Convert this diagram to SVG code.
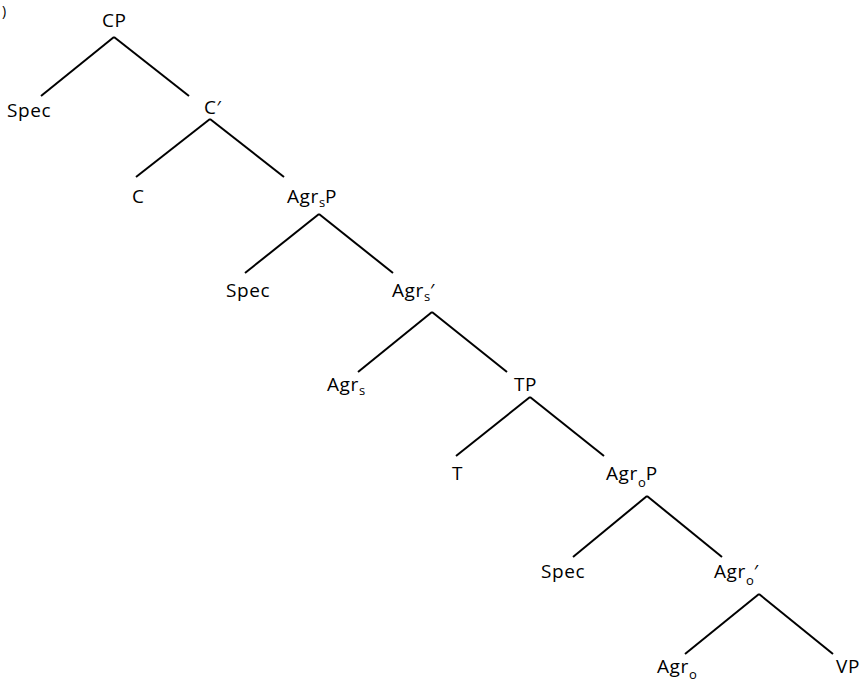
<svg xmlns="http://www.w3.org/2000/svg" width="863" height="682" viewBox="0 0 863 682">
<style>
text{font-family:"Open Sans","Liberation Sans",sans-serif;font-size:19px;letter-spacing:0.6px;fill:#000}
.sub{font-size:13px;letter-spacing:0}
#edges line{stroke:#000;stroke-width:2;stroke-linecap:butt}
</style>
<rect width="863" height="682" fill="#fff"/>
<text x="2" y="16" style="font-size:14px">)</text>
<g id="edges">
<line x1="114" y1="37" x2="41" y2="96"/>
<line x1="114" y1="37" x2="189" y2="96"/>
<line x1="210" y1="119" x2="136" y2="177"/>
<line x1="210" y1="119" x2="284" y2="177"/>
<line x1="319" y1="214" x2="245" y2="273"/>
<line x1="319" y1="214" x2="393" y2="273"/>
<line x1="432" y1="312" x2="358" y2="372"/>
<line x1="432" y1="312" x2="507" y2="372"/>
<line x1="530" y1="397" x2="456" y2="456"/>
<line x1="530" y1="397" x2="604" y2="456"/>
<line x1="647" y1="496" x2="573" y2="557"/>
<line x1="647" y1="496" x2="722" y2="557"/>
<line x1="759" y1="594" x2="685" y2="654"/>
<line x1="759" y1="594" x2="833" y2="654"/>
</g>
<g id="n-CP"><text x="102" y="27">CP</text></g>
<g id="n-Spec1"><text x="7" y="117">Spec</text></g>
<g id="n-Cbar"><text x="204" y="114">C′</text></g>
<g id="n-C"><text x="132" y="203">C</text></g>
<g id="n-AgrsP"><text x="287" y="203">Agr<tspan class="sub" dy="4">s</tspan><tspan dy="-4">P</tspan></text></g>
<g id="n-Spec2"><text x="226" y="297">Spec</text></g>
<g id="n-Agrsbar"><text x="392" y="297">Agr<tspan class="sub" dy="4">s</tspan><tspan dy="-4">′</tspan></text></g>
<g id="n-Agrs"><text x="327" y="391">Agr<tspan class="sub" dy="4">s</tspan></text></g>
<g id="n-TP"><text x="514" y="391">TP</text></g>
<g id="n-T"><text x="452" y="480">T</text></g>
<g id="n-AgroP"><text x="606" y="480">Agr<tspan class="sub" dy="7">o</tspan><tspan dy="-7">P</tspan></text></g>
<g id="n-Spec3"><text x="541" y="578">Spec</text></g>
<g id="n-Agrobar"><text x="714" y="578">Agr<tspan class="sub" dy="7">o</tspan><tspan dy="-7">′</tspan></text></g>
<g id="n-Agro"><text x="657" y="673">Agr<tspan class="sub" dy="6">o</tspan></text></g>
<g id="n-VP"><text x="836" y="673">VP</text></g>
</svg>
